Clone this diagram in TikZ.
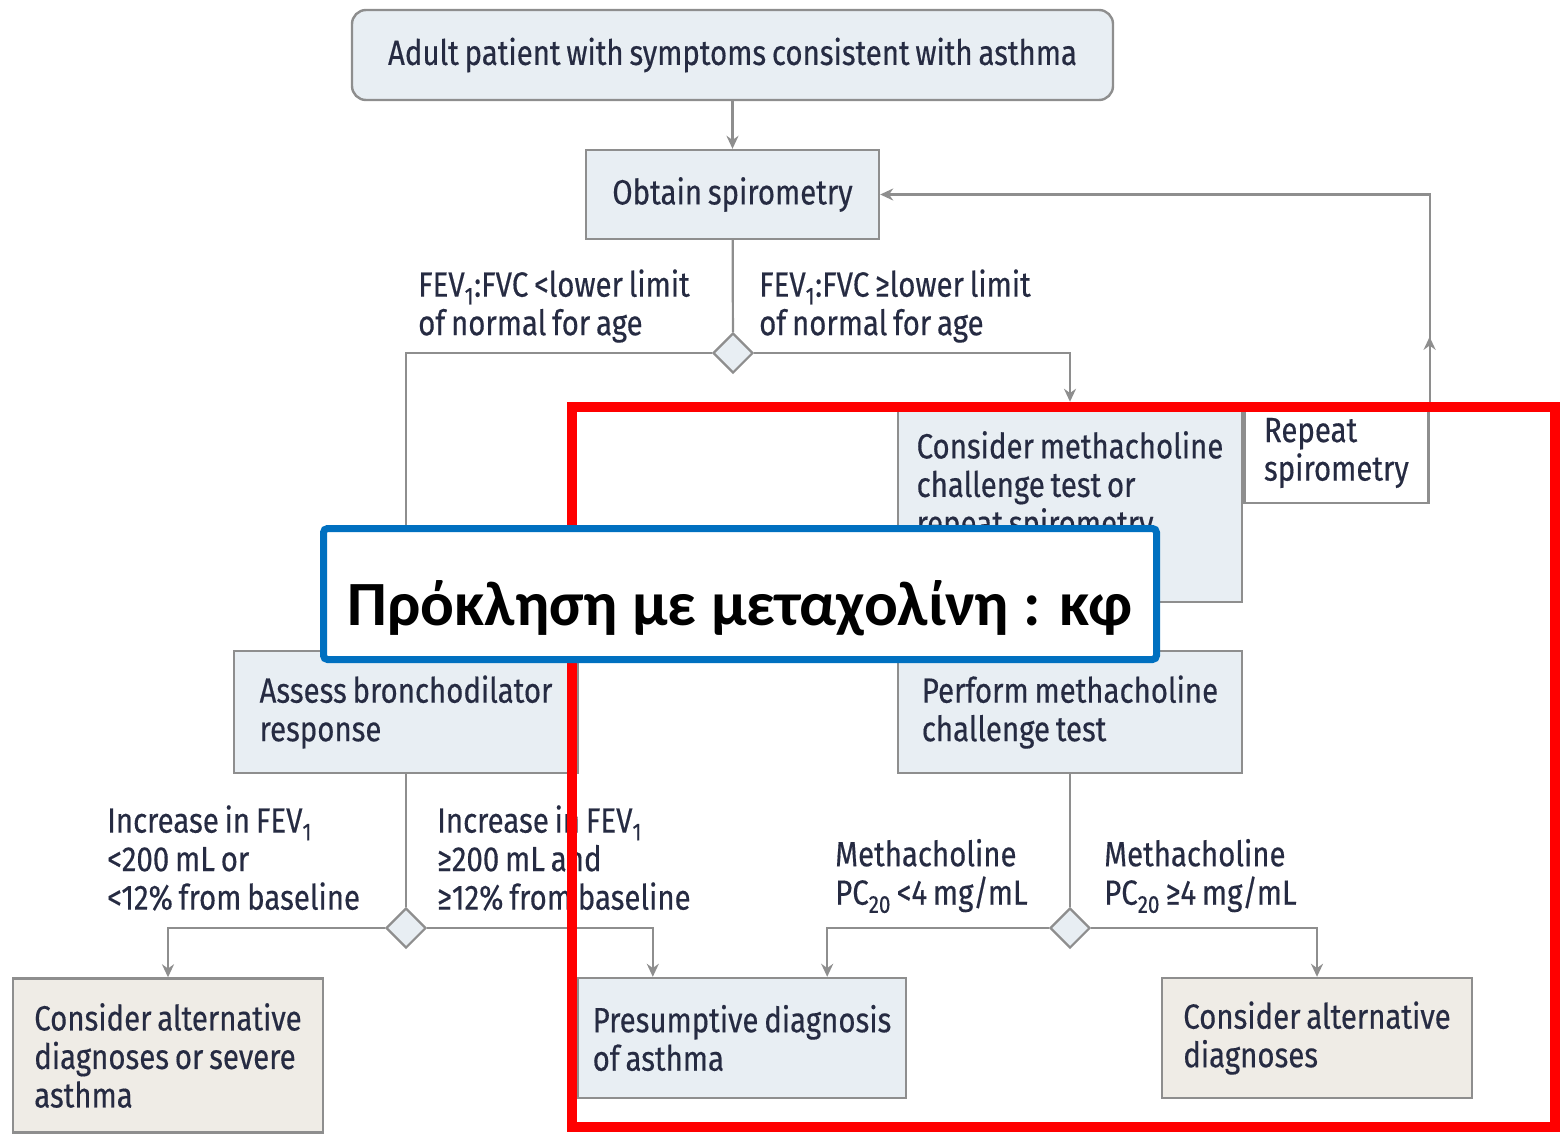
\documentclass[tikz,border=0pt]{standalone}
\usepackage{fontspec}
\setmainfont{Fira Sans}[FakeStretch=0.84, WordSpace=0.75, FakeBold=0.4]
\newfontfamily\greekfont{Carlito}
\usetikzlibrary{positioning, arrows.meta, shapes.geometric, calc}

\definecolor{boxfill}{HTML}{E8EEF3}
\definecolor{altfill}{HTML}{EFECE6}
\definecolor{edge}{HTML}{8E8E8E}
\definecolor{ink}{HTML}{262B42}
\definecolor{markred}{HTML}{FF0000}
\definecolor{markblue}{HTML}{0070C0}

\begin{document}
\begin{tikzpicture}[
  x=1pt, y=-1pt,
  font=\fontsize{35}{38.5}\selectfont, text=ink,
  box/.style  ={rectangle, draw=edge, line width=2.4pt, fill=boxfill, align=left, inner sep=0pt},
  alt/.style  ={box, fill=altfill},
  side/.style ={box, fill=white},
  dec/.style  ={diamond, draw=edge, line width=2.2pt, fill=boxfill, minimum width=40pt, minimum height=40pt, inner sep=0pt},
  cond/.style ={anchor=west, align=left, inner sep=0pt},
  link/.style ={draw=edge, line width=2.2pt},
  flow/.style ={link, -{Stealth[length=13pt, width=12pt]}},
  focus/.style={draw=markred, line width=10pt, inner sep=0pt},
  note/.style ={draw=markblue, line width=7pt, fill=white, rounded corners=4pt, inner sep=0pt, text=black,
                text height=80pt, text depth=18pt, font=\greekfont\bfseries\fontsize{63}{66}\selectfont},
]
\useasboundingbox (0,0) rectangle (1563,1134);

% ---------- top ----------
\node[box, align=center, rounded corners=14pt, minimum width=761pt, minimum height=90pt] (start) at (732.5,55)
  {Adult patient with symptoms consistent with asthma};
\node[box, align=center, minimum width=293pt, minimum height=89pt] (obtain) at (732.5,194.5) {Obtain spirometry};
\node[dec] (d1) at (733,353) {};

\node[cond] (lowfvc)  at (418,306) {FEV\textsubscript{1}:FVC <lower limit\\of normal for age};
\node[cond] (highfvc) at (759,306) {FEV\textsubscript{1}:FVC ≥lower limit\\of normal for age};

% ---------- middle ----------
\node[box, minimum width=344pt, minimum height=199pt] (consider) at (1070,502.5)
  {Consider methacholine\\challenge test or\\repeat spirometry\\\mbox{}};
\node[side, minimum width=184pt, minimum height=100pt, right=0pt of consider.north east, anchor=north west] (repeat)
  {Repeat\\spirometry};
\node[box, minimum width=344pt, minimum height=122pt] (assess)  at (406,712)  {Assess bronchodilator\\response};
\node[box, minimum width=344pt, minimum height=122pt] (perform) at (1070,712) {Perform methacholine\\challenge test};

\node[dec] (d2) at (406,928) {};
\node[dec] (d3) at (1070,928) {};

\node[cond] (lowbd)  at (107,858) {Increase in FEV\textsubscript{1}\\<200 mL or\\<12\% from baseline};
\node[cond] (highbd) at (437,858) {Increase in FEV\textsubscript{1}\\≥200 mL and\\≥12\% from baseline};
\node[cond] (lowpc)  at (835,876) {Methacholine\\PC\textsubscript{20} <4 mg/mL};
\node[cond] (highpc) at (1104,876) {Methacholine\\PC\textsubscript{20} ≥4 mg/mL};

% ---------- outcomes ----------
\node[alt, minimum width=310pt, minimum height=154pt] (altsevere) at (168,1055.5)
  {Consider alternative\\diagnoses or severe\\asthma};
\node[box, minimum width=328pt, minimum height=120pt] (presumed) at (742,1038)
  {Presumptive diagnosis\\of asthma};
\node[alt, minimum width=310pt, minimum height=120pt] (altother) at (1317,1038)
  {Consider alternative\\diagnoses};

% ---------- flows ----------
\draw[flow] (start) -- (obtain);
\draw[link] (obtain) -- (d1);
\draw[link] (d1.west) -| (assess.north);
\draw[flow] (d1.east) -| (consider.north);
\draw[flow] (repeat.north east) -- ++(0,-65);
\draw[flow] (repeat.north east) |- (obtain.east);
\draw[link] (assess) -- (d2);
\draw[flow] (d2.west) -| (altsevere.north);
\draw[flow] (d2.east) -| ($(presumed.north west)+(76,0)$);
\draw[link] (perform) -- (d3);
\draw[flow] (d3.west) -| ($(presumed.north east)+(-80,0)$);
\draw[flow] (d3.east) -| (altother.north);

% ---------- overlays ----------
\node[focus, minimum width=983pt, minimum height=720pt] (frame) at (1063.5,767) {};
\node[note, minimum width=833pt, minimum height=131pt] (caption) at (740,594) {Πρόκληση με μεταχολίνη : κφ};

\end{tikzpicture}
\end{document}
